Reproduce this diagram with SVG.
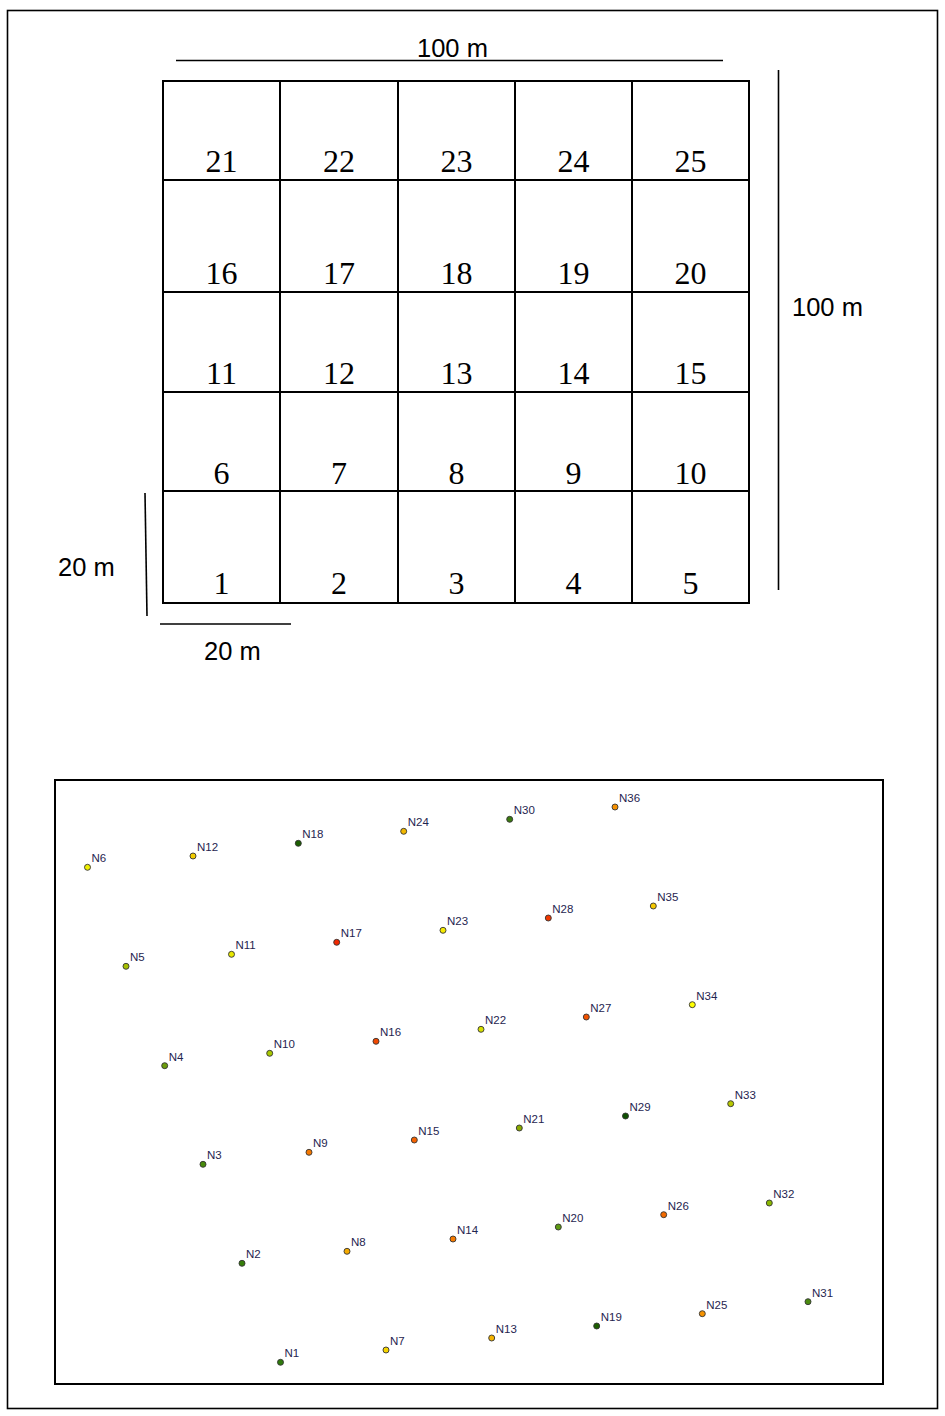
<svg xmlns="http://www.w3.org/2000/svg" width="945" height="1416" viewBox="0 0 945 1416">
<style>
.frame{fill:none;stroke:#000;stroke-width:1.6}
.cell rect{fill:none;stroke:#000;stroke-width:2}
.num{font-family:"Liberation Serif","Times New Roman",serif;font-size:32px;fill:#000;text-anchor:middle}
.dim{font-family:"Liberation Sans",Arial,sans-serif;font-size:25.5px;fill:#000}
.bar{stroke:#000;stroke-width:1.6;fill:none}
.pt circle{stroke:#333;stroke-width:0.9}
.pt text{font-family:"Liberation Sans",Arial,sans-serif;font-size:11.5px;fill:#1f2550}
</style>
<rect x="0" y="0" width="945" height="1416" fill="#fff"/>
<rect class="frame" x="7.5" y="10.5" width="930" height="1398"/>

<g id="scale-bars">
<line class="bar" x1="176" y1="60.5" x2="723" y2="60.5"/>
<line class="bar" x1="778.5" y1="70" x2="778.5" y2="590"/>
<line class="bar" x1="145" y1="493" x2="147" y2="616"/>
<line class="bar" x1="160" y1="624" x2="291" y2="624"/>
<text class="dim" x="417" y="57">100 m</text>
<text class="dim" x="792" y="316">100 m</text>
<text class="dim" x="58" y="576">20 m</text>
<text class="dim" x="204" y="660">20 m</text>
</g>

<g id="grid">
<g id="cell21" class="cell"><rect x="163" y="81" width="117" height="99"/><text class="num" x="221.5" y="172">21</text></g>
<g id="cell22" class="cell"><rect x="280" y="81" width="118" height="99"/><text class="num" x="339" y="172">22</text></g>
<g id="cell23" class="cell"><rect x="398" y="81" width="117" height="99"/><text class="num" x="456.5" y="172">23</text></g>
<g id="cell24" class="cell"><rect x="515" y="81" width="117" height="99"/><text class="num" x="573.5" y="172">24</text></g>
<g id="cell25" class="cell"><rect x="632" y="81" width="117" height="99"/><text class="num" x="690.5" y="172">25</text></g>

<g id="cell16" class="cell"><rect x="163" y="180" width="117" height="112"/><text class="num" x="221.5" y="284">16</text></g>
<g id="cell17" class="cell"><rect x="280" y="180" width="118" height="112"/><text class="num" x="339" y="284">17</text></g>
<g id="cell18" class="cell"><rect x="398" y="180" width="117" height="112"/><text class="num" x="456.5" y="284">18</text></g>
<g id="cell19" class="cell"><rect x="515" y="180" width="117" height="112"/><text class="num" x="573.5" y="284">19</text></g>
<g id="cell20" class="cell"><rect x="632" y="180" width="117" height="112"/><text class="num" x="690.5" y="284">20</text></g>

<g id="cell11" class="cell"><rect x="163" y="292" width="117" height="100"/><text class="num" x="221.5" y="384">11</text></g>
<g id="cell12" class="cell"><rect x="280" y="292" width="118" height="100"/><text class="num" x="339" y="384">12</text></g>
<g id="cell13" class="cell"><rect x="398" y="292" width="117" height="100"/><text class="num" x="456.5" y="384">13</text></g>
<g id="cell14" class="cell"><rect x="515" y="292" width="117" height="100"/><text class="num" x="573.5" y="384">14</text></g>
<g id="cell15" class="cell"><rect x="632" y="292" width="117" height="100"/><text class="num" x="690.5" y="384">15</text></g>

<g id="cell6" class="cell"><rect x="163" y="392" width="117" height="99"/><text class="num" x="221.5" y="484">6</text></g>
<g id="cell7" class="cell"><rect x="280" y="392" width="118" height="99"/><text class="num" x="339" y="484">7</text></g>
<g id="cell8" class="cell"><rect x="398" y="392" width="117" height="99"/><text class="num" x="456.5" y="484">8</text></g>
<g id="cell9" class="cell"><rect x="515" y="392" width="117" height="99"/><text class="num" x="573.5" y="484">9</text></g>
<g id="cell10" class="cell"><rect x="632" y="392" width="117" height="99"/><text class="num" x="690.5" y="484">10</text></g>

<g id="cell1" class="cell"><rect x="163" y="491" width="117" height="112"/><text class="num" x="221.5" y="594">1</text></g>
<g id="cell2" class="cell"><rect x="280" y="491" width="118" height="112"/><text class="num" x="339" y="594">2</text></g>
<g id="cell3" class="cell"><rect x="398" y="491" width="117" height="112"/><text class="num" x="456.5" y="594">3</text></g>
<g id="cell4" class="cell"><rect x="515" y="491" width="117" height="112"/><text class="num" x="573.5" y="594">4</text></g>
<g id="cell5" class="cell"><rect x="632" y="491" width="117" height="112"/><text class="num" x="690.5" y="594">5</text></g>
</g>

<rect id="map-frame" x="55" y="780" width="828" height="604" fill="none" stroke="#000" stroke-width="2"/>

<g id="connectors"></g>

<g id="points">
<g id="N1" class="pt"><circle cx="280.5" cy="1362.3" r="3" fill="#2f7a0c"/><text x="284.5" y="1357.3">N1</text></g>
<g id="N2" class="pt"><circle cx="242" cy="1263.3" r="3" fill="#357d0a"/><text x="246" y="1258.3">N2</text></g>
<g id="N3" class="pt"><circle cx="203" cy="1164.3" r="3" fill="#478a0a"/><text x="207" y="1159.3">N3</text></g>
<g id="N4" class="pt"><circle cx="164.7" cy="1065.7" r="3" fill="#6c9c0a"/><text x="168.7" y="1060.7">N4</text></g>
<g id="N5" class="pt"><circle cx="126" cy="966.3" r="3" fill="#a6c000"/><text x="130" y="961.3">N5</text></g>
<g id="N6" class="pt"><circle cx="87.5" cy="867.3" r="3" fill="#f0f000"/><text x="91.5" y="862.3">N6</text></g>
<g id="N7" class="pt"><circle cx="386" cy="1350" r="3" fill="#f5d400"/><text x="390" y="1345">N7</text></g>
<g id="N8" class="pt"><circle cx="347" cy="1251.3" r="3" fill="#f5aa00"/><text x="351" y="1246.3">N8</text></g>
<g id="N9" class="pt"><circle cx="309" cy="1152.3" r="3" fill="#f57800"/><text x="313" y="1147.3">N9</text></g>
<g id="N10" class="pt"><circle cx="269.7" cy="1053.3" r="3" fill="#a8c800"/><text x="273.7" y="1048.3">N10</text></g>
<g id="N11" class="pt"><circle cx="231.5" cy="954.3" r="3" fill="#e8e800"/><text x="235.5" y="949.3">N11</text></g>
<g id="N12" class="pt"><circle cx="193" cy="856" r="3" fill="#f2cc00"/><text x="197" y="851">N12</text></g>
<g id="N13" class="pt"><circle cx="491.7" cy="1338" r="3" fill="#f5b400"/><text x="495.7" y="1333">N13</text></g>
<g id="N14" class="pt"><circle cx="453" cy="1239" r="3" fill="#f57a00"/><text x="457" y="1234">N14</text></g>
<g id="N15" class="pt"><circle cx="414.3" cy="1140" r="3" fill="#f56200"/><text x="418.3" y="1135">N15</text></g>
<g id="N16" class="pt"><circle cx="376" cy="1041.3" r="3" fill="#f04800"/><text x="380" y="1036.3">N16</text></g>
<g id="N17" class="pt"><circle cx="336.7" cy="942.3" r="3" fill="#f02800"/><text x="340.7" y="937.3">N17</text></g>
<g id="N18" class="pt"><circle cx="298.3" cy="843.3" r="3" fill="#1c5e00"/><text x="302.3" y="838.3">N18</text></g>
<g id="N19" class="pt"><circle cx="596.7" cy="1326" r="3" fill="#1c5e00"/><text x="600.7" y="1321">N19</text></g>
<g id="N20" class="pt"><circle cx="558.3" cy="1227" r="3" fill="#5e9a12"/><text x="562.3" y="1222">N20</text></g>
<g id="N21" class="pt"><circle cx="519.3" cy="1128" r="3" fill="#8aaa00"/><text x="523.3" y="1123">N21</text></g>
<g id="N22" class="pt"><circle cx="481" cy="1029.3" r="3" fill="#d6e000"/><text x="485" y="1024.3">N22</text></g>
<g id="N23" class="pt"><circle cx="443" cy="930.3" r="3" fill="#f5ea00"/><text x="447" y="925.3">N23</text></g>
<g id="N24" class="pt"><circle cx="403.7" cy="831.3" r="3" fill="#f2b800"/><text x="407.7" y="826.3">N24</text></g>
<g id="N25" class="pt"><circle cx="702.3" cy="1313.7" r="3" fill="#f59200"/><text x="706.3" y="1308.7">N25</text></g>
<g id="N26" class="pt"><circle cx="663.7" cy="1214.7" r="3" fill="#f26a00"/><text x="667.7" y="1209.7">N26</text></g>
<g id="N27" class="pt"><circle cx="586.3" cy="1017" r="3" fill="#f25200"/><text x="590.3" y="1012">N27</text></g>
<g id="N28" class="pt"><circle cx="548.3" cy="918" r="3" fill="#f03800"/><text x="552.3" y="913">N28</text></g>
<g id="N29" class="pt"><circle cx="625.5" cy="1116" r="3" fill="#0e5000"/><text x="629.5" y="1111">N29</text></g>
<g id="N30" class="pt"><circle cx="509.7" cy="819.3" r="3" fill="#3c7a10"/><text x="513.7" y="814.3">N30</text></g>
<g id="N31" class="pt"><circle cx="808" cy="1301.7" r="3" fill="#4a8a10"/><text x="812" y="1296.7">N31</text></g>
<g id="N32" class="pt"><circle cx="769.3" cy="1203" r="3" fill="#8ab800"/><text x="773.3" y="1198">N32</text></g>
<g id="N33" class="pt"><circle cx="730.7" cy="1103.7" r="3" fill="#b8c800"/><text x="734.7" y="1098.7">N33</text></g>
<g id="N34" class="pt"><circle cx="692.3" cy="1004.7" r="3" fill="#ffff00"/><text x="696.3" y="999.7">N34</text></g>
<g id="N35" class="pt"><circle cx="653.3" cy="906" r="3" fill="#f5c800"/><text x="657.3" y="901">N35</text></g>
<g id="N36" class="pt"><circle cx="615" cy="807" r="3" fill="#f59000"/><text x="619" y="802">N36</text></g>
</g>
</svg>
